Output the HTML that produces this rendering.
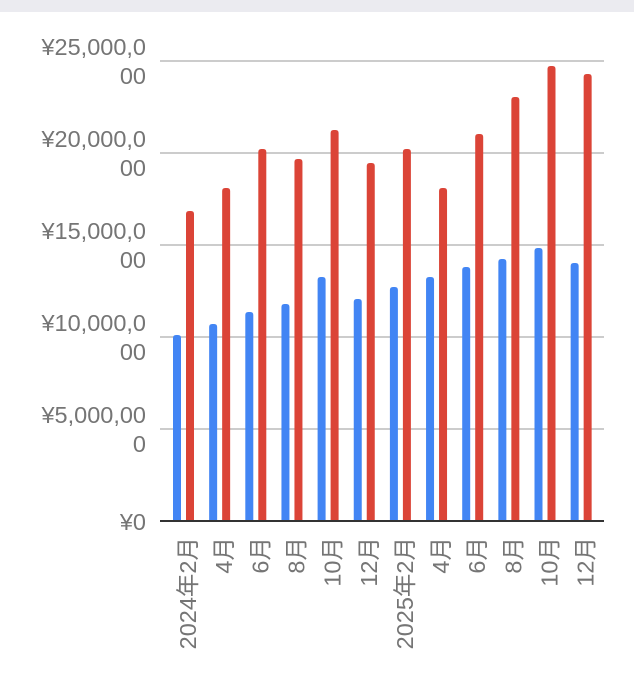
<!DOCTYPE html>
<html><head><meta charset="utf-8"><style>
body{margin:0;background:#fff;}
svg{display:block;}
text{font-family:"Liberation Sans","Noto Sans CJK JP",sans-serif;fill:#757575;font-size:23.5px;}
</style></head><body>
<svg width="634" height="680" xmlns="http://www.w3.org/2000/svg">
<rect x="0" y="0" width="634" height="12" fill="#ebebf0"/>
<g stroke="#cccccc" stroke-width="2">
<line x1="160" y1="61" x2="604" y2="61"/>
<line x1="160" y1="153" x2="604" y2="153"/>
<line x1="160" y1="245" x2="604" y2="245"/>
<line x1="160" y1="337" x2="604" y2="337"/>
<line x1="160" y1="429" x2="604" y2="429"/>
</g>
<g text-anchor="end">
<text x="146" y="55">¥25,000,0</text><text x="146" y="84">00</text>
<text x="146" y="147">¥20,000,0</text><text x="146" y="176">00</text>
<text x="146" y="239">¥15,000,0</text><text x="146" y="268">00</text>
<text x="146" y="331">¥10,000,0</text><text x="146" y="360">00</text>
<text x="146" y="423">¥5,000,00</text><text x="146" y="452">0</text>
<text x="146" y="530">¥0</text>
</g>
<g id="bars"></g>
<line x1="160" y1="521" x2="604" y2="521" stroke="#333" stroke-width="2"/>
<g id="labels"></g>
<script>
var b=[335,324,312,304,277,299,287,277,267,259,248,263];
var r=[211,188,149,159,130,163,149,188,134,97,66,74];
var L=["2024年2月","4月","6月","8月","10月","12月","2025年2月","4月","6月","8月","10月","12月"];
var ns="http://www.w3.org/2000/svg",g=document.getElementById("bars"),lg=document.getElementById("labels");
for(var i=0;i<12;i++){
 var x=173+i*36.15;
 [[x,b[i],"#4285f4"],[x+13,r[i],"#db4437"]].forEach(function(a){
  var e=document.createElementNS(ns,"path");
  var w=8,t=a[1];
  e.setAttribute("d","M"+a[0]+" 521 V"+(t+3)+" Q"+a[0]+" "+t+" "+(a[0]+3)+" "+t+" H"+(a[0]+w-3)+" Q"+(a[0]+w)+" "+t+" "+(a[0]+w)+" "+(t+3)+" V521 Z");
  e.setAttribute("fill",a[2]);g.appendChild(e);
 });
 var t=document.createElementNS(ns,"text");
 var cx=x+15;
 t.setAttribute("transform","translate("+(cx+8)+",537) rotate(-90)");
 t.setAttribute("text-anchor","end");
 t.textContent=L[i];lg.appendChild(t);
}
</script>
</svg>
</body></html>
